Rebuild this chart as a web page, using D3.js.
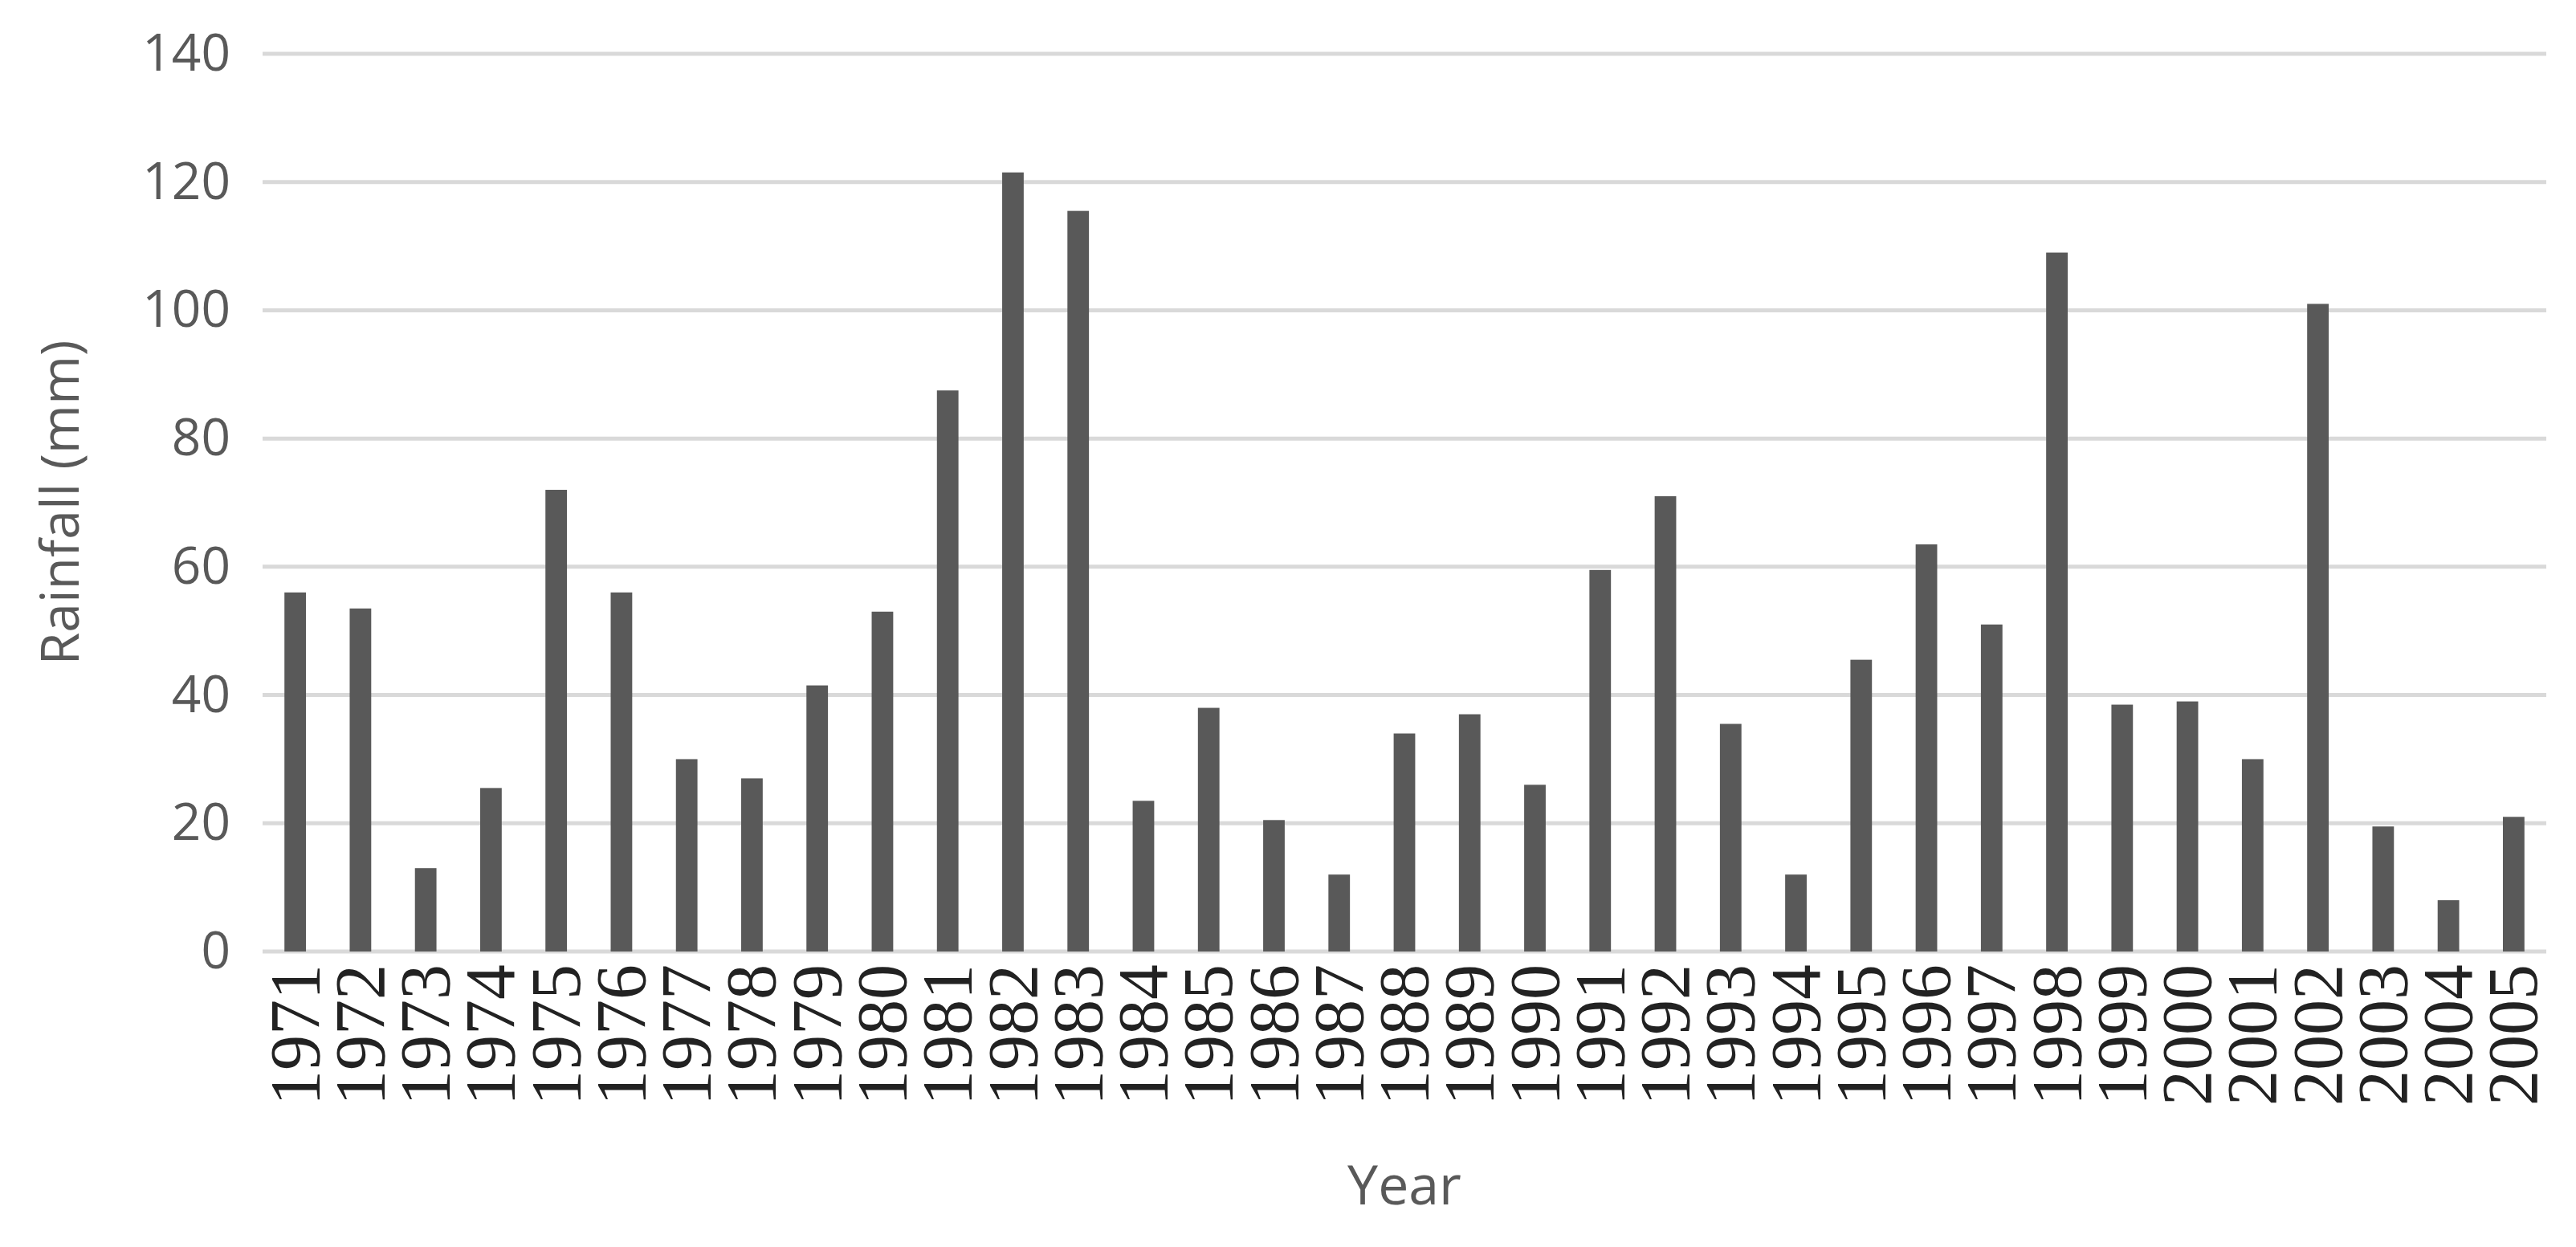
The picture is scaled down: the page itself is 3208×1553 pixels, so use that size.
<!DOCTYPE html>
<html><head><meta charset="utf-8">
<script src="https://cdn.jsdelivr.net/npm/d3@7"></script>
<style>body{margin:0;background:#fff}</style></head>
<body><svg id="c" width="3208" height="1553"></svg>
<script>
const years = ["1971","1972","1973","1974","1975","1976","1977","1978","1979","1980","1981","1982","1983","1984","1985","1986","1987","1988","1989","1990","1991","1992","1993","1994","1995","1996","1997","1998","1999","2000","2001","2002","2003","2004","2005"];
const rainfall = [56,53.5,13,25.5,72,56,30,27,41.5,53,87.5,121.5,115.5,23.5,38,20.5,12,34,37,26,59.5,71,35.5,12,45.5,63.5,51,109,38.5,39,30,101,19.5,8,21];
const yTicks = [0,20,40,60,80,100,120,140];

const svg = d3.select("#c");
const L=327,R=3171,T=67,B=1185;
const x = d3.scaleBand().domain(years).range([L,R]).paddingInner(0.67).paddingOuter(0.335);
const y = d3.scaleLinear().domain([0,140]).range([B,T]);

svg.append("g").selectAll("line").data(yTicks).join("line")
  .attr("x1",L).attr("x2",R).attr("y1",d=>y(d)).attr("y2",d=>y(d))
  .attr("stroke","#d9d9d9").attr("stroke-width",5);

const ya = d3.axisLeft(y).tickValues(yTicks).tickSize(0).tickPadding(40);
const yg = svg.append("g").attr("transform",`translate(${L},0)`).call(ya);
yg.select(".domain").remove();
yg.selectAll("text").style("font-family","'Open Sans', sans-serif").style("font-size","64px").attr("fill","#595959");

svg.append("g").selectAll("rect").data(rainfall).join("rect")
  .attr("x",(d,i)=>x(years[i])).attr("width",x.bandwidth())
  .attr("y",d=>y(d)).attr("height",d=>B-y(d)).attr("fill","#595959");

const xa = d3.axisBottom(x).tickSize(0).tickPadding(0);
const xg = svg.append("g").attr("transform",`translate(0,${B})`).call(xa);
xg.select(".domain").remove();
xg.selectAll("text").style("font-family","'Liberation Serif', 'DejaVu Serif', serif").style("font-size","88px").attr("fill","#222")
  .attr("text-anchor","end").attr("dy","0.33em")
  .attr("transform","translate(0,16) rotate(-90)").attr("x",0).attr("y",0);

svg.append("text").attr("x",(L+R)/2).attr("y",1500).attr("text-anchor","middle")
  .style("font-family","'Open Sans', sans-serif").style("font-size","68px").attr("fill","#595959").text("Year");
svg.append("text").attr("transform",`translate(98,${(T+B)/2}) rotate(-90)`).attr("text-anchor","middle")
  .style("font-family","'Open Sans', sans-serif").style("font-size","66px").attr("fill","#595959").text("Rainfall (mm)");
</script></body></html>
